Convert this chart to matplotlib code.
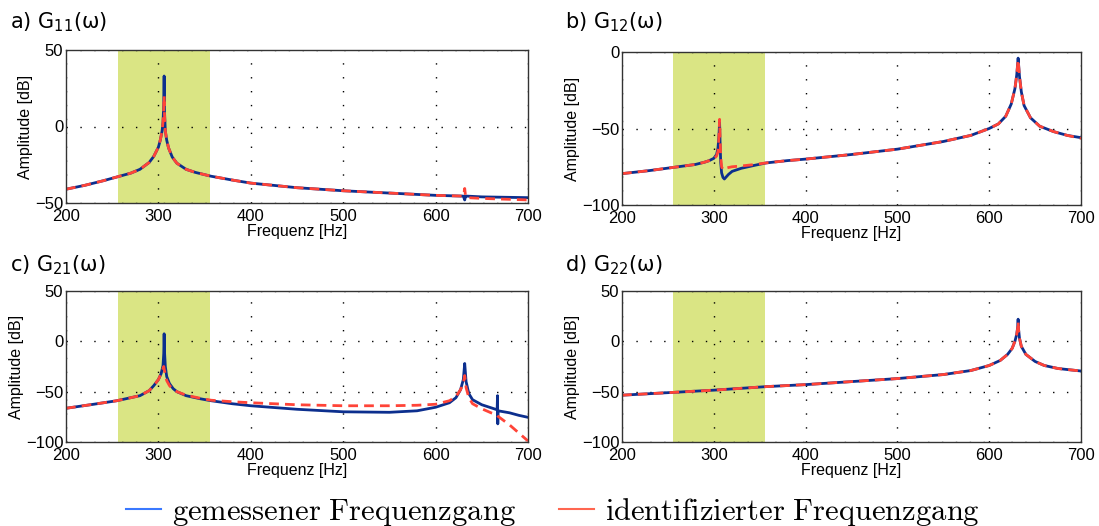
import matplotlib
matplotlib.use("Agg")
import matplotlib.pyplot as plt
from matplotlib.lines import Line2D
from matplotlib.font_manager import FontProperties

# ---- data (frequency in Hz, amplitude in dB) ----
f_a = [200, 220, 240, 255, 270, 280, 290, 295, 300, 302, 304, 305, 305.8, 306.2, 306.6, 307.5,
       309, 311, 315, 320, 330, 340, 357, 380, 400, 450, 500, 550, 600, 630, 631.5, 632.5, 634, 650, 700]
meas_a = [-41, -38.5, -35.5, -33, -30.5, -28, -23.5, -19.5, -13.5, -9, -3, 3, 15, 33, 10, -3,
          -9, -14, -20, -24, -28, -30, -32.5, -35, -37, -40, -42, -43.5, -45, -45.5, -48, -45.5, -45.5, -46, -46.5]
ident_a = [-41, -38.5, -35.5, -33, -30.5, -28, -23.5, -19.5, -13.5, -9, -3, 3, 12, 20, 8, -3,
           -9, -14, -20, -24, -28, -30, -32.5, -35, -37, -40, -42, -43.5, -45, -45.5, -40.5, -46, -46.5, -47, -48]

f_b = [200, 230, 255, 280, 290, 295, 300, 303, 304.5, 305.5, 306.3, 306.8, 307.5, 308.5, 310, 311.5,
       313, 316, 320, 330, 345, 357, 380, 400, 450, 500, 550, 580, 600, 610, 618, 624, 628, 630,
       631.5, 633, 635, 638, 645, 655, 670, 685, 700]
meas_b = [-79.5, -77.5, -75.5, -73.5, -72, -71, -69.5, -67, -63, -56, -46, -58, -72, -79, -82, -83,
          -82, -80, -78, -76, -74, -72.5, -71, -70, -67, -63.5, -58.5, -54.5, -50, -47, -42, -34, -24, -15,
          -4, -16, -26, -35, -43, -48.5, -52, -54.5, -56]
ident_b = [-79.5, -77.5, -75.5, -73.5, -72, -71, -70, -68, -65, -57, -44, -55, -68, -75, -77, -76.5,
           -76, -75.5, -75, -74.5, -73.5, -72.5, -71, -70, -67, -63.5, -58.5, -54.5, -50, -47, -42, -34, -24, -15,
           -5, -16, -26, -35, -43, -48.5, -52, -54.5, -56.5]

f_c = [200, 230, 255, 280, 290, 295, 300, 303, 305, 305.8, 306.2, 306.6, 307.5, 309, 312, 316,
       320, 330, 345, 357, 380, 400, 450, 500, 550, 580, 600, 615, 622, 627, 630, 631.5, 633, 636,
       640, 650, 660, 666.6, 667, 667.3, 667.6, 680, 690, 700]
meas_c = [-66.5, -62.5, -59, -54, -49, -44, -38, -32, -24, -12, 7.5, -10, -25, -35, -42, -47,
          -50, -54, -57, -59, -62, -64, -67.5, -70, -70.5, -69, -65.5, -61, -56, -48, -38, -22, -40, -52,
          -58, -63, -66, -68, -54, -82, -69, -71, -73.5, -75.5]
ident_c = [-66.5, -62.5, -59, -54, -49, -44, -38, -32, -27, -25, -27.5, -29, -33, -39, -44, -48,
           -50, -53.5, -56.5, -58.5, -60, -61, -63, -64, -64, -63.5, -62.5, -59, -55, -48, -42, -34, -46, -56,
           -62, -67, -71, -73, -73.5, -74, -74.5, -83, -91, -99]

f_d = [200, 250, 300, 357, 400, 450, 500, 550, 580, 600, 612, 620, 625, 628, 630, 631,
       631.5, 632, 633, 635, 640, 650, 660, 675, 700]
meas_d = [-53.5, -51, -48.5, -45, -43, -40, -37, -33, -29, -24, -19, -13, -7, 0, 7, 14,
          22, 12, 3, -5, -13, -20, -24, -27, -29.5]
ident_d = [-53.5, -51, -48.5, -45, -43, -40, -37, -33, -29, -24, -19, -13, -7, 0, 7, 13,
           20, 11, 3, -5, -13, -20, -24, -27, -29.5]

band = (256, 356)  # highlighted frequency range
titles = [r"a) G$_{11}$(ω)", r"b) G$_{12}$(ω)", r"c) G$_{21}$(ω)", r"d) G$_{22}$(ω)"]
ylims = [(-50, 50), (-100, 0), (-100, 50), (-100, 50)]
yticks = [[-50, 0, 50], [-100, -50, 0], [-100, -50, 0, 50], [-100, -50, 0, 50]]
xticks = [200, 300, 400, 500, 600, 700]
legend_labels = [r"$\mathrm{gemessener\ Frequenzgang}$", r"$\mathrm{identifizierter\ Frequenzgang}$"]

panels = [(f_a, meas_a, ident_a), (f_b, meas_b, ident_b), (f_c, meas_c, ident_c), (f_d, meas_d, ident_d)]

W, H = 1099, 526
fig = plt.figure(figsize=(W / 100, H / 100), dpi=100)

# axes boxes in pixels: left, right, top, bottom
boxes = [(66, 528, 50, 203), (622, 1081, 52, 205), (66, 528, 291, 442), (622, 1081, 291, 442)]
title_pos = [(10, 22), (565, 22), (10, 265), (565, 265)]

blue = "#0c2f8e"
red = "#ff4438"
green = "#dae584"

for i, (f, meas, ident) in enumerate(panels):
    l, r, t, b = boxes[i]
    ax = fig.add_axes([l / W, 1 - b / H, (r - l) / W, (b - t) / H])
    ax.axvspan(band[0], band[1], color=green, lw=0, zorder=0)
    ax.plot(f, meas, color=blue, lw=2.0, zorder=3)
    ax.plot(f, ident, color=red, lw=2.0, ls=(0, (3.5, 2.2)), zorder=4)
    ax.set_xlim(200, 700)
    ax.set_ylim(*ylims[i])
    ax.set_xticks(xticks)
    ax.set_yticks(yticks[i])
    ax.grid(True, color="black", ls=(0, (1, 9)), lw=1.0, zorder=1)
    ax.set_axisbelow(False)
    ax.tick_params(length=0, labelsize=12)
    ax.tick_params(axis="x", pad=4)
    ax.tick_params(axis="y", pad=2)
    for lab in ax.get_xticklabels() + ax.get_yticklabels():
        lab.set_family("Liberation Sans")
    for s in ax.spines.values():
        s.set_color("#333333")
        s.set_linewidth(1.0)
        s.set_zorder(5)
    ax.set_xlabel("Frequenz [Hz]", fontsize=11.5, family="Liberation Sans", labelpad=0.5)
    ax.set_ylabel("Amplitude [dB]", fontsize=11.5, family="Liberation Sans", labelpad=1.5)
    tx, ty = title_pos[i]
    fig.text(tx / W, 1 - ty / H, titles[i], fontsize=15, va="center", ha="left")

handles = [Line2D([], [], color="#3a78ff", lw=1.5), Line2D([], [], color="#ff6650", lw=1.5)]
fig.legend(handles, legend_labels, loc="center", bbox_to_anchor=(0.503, 1 - 512 / H), ncol=2,
           frameon=False, handlelength=1.15, handletextpad=0.35, columnspacing=1.4,
           prop=FontProperties(size=22, math_fontfamily="cm"), borderpad=0)

fig.savefig("out.png", dpi=100)
